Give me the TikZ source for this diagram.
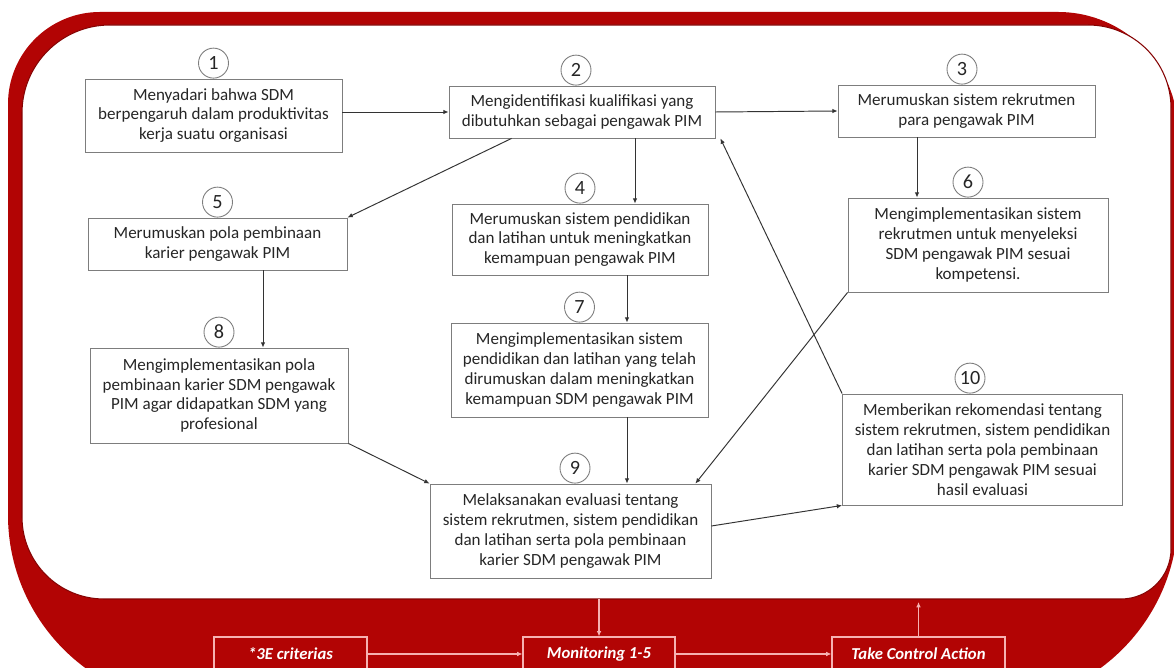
\documentclass[tikz,border=0pt]{standalone}
\usepackage{fontspec}
\setmainfont{Carlito}
\usepackage{xcolor}
\usetikzlibrary{arrows.meta}
\definecolor{framered}{RGB}{178,4,4}
\definecolor{boxgrey}{RGB}{125,125,125}
\definecolor{linkpink}{RGB}{246,178,178}
\begin{document}
\begin{tikzpicture}[x=0.02cm,y=-0.02cm,
	stepbox/.style={draw=boxgrey,line width=0.5pt,fill=white,align=center,inner sep=1pt,text=black!85,font=\fontsize{9.7}{11.3}\selectfont},
	num/.style={circle,draw=boxgrey,line width=0.5pt,fill=white,inner sep=0pt,minimum size=0.6cm,anchor=south,text=black!85,font=\fontsize{11.5}{12}\selectfont},
	ctrl/.style={draw=linkpink,line width=0.6pt,minimum width=#1,minimum height=0.68cm,text=white,font=\fontsize{9.5}{11}\selectfont\bfseries\itshape},
	arr/.style={-{Latex[length=3pt,width=2.6pt]},draw=black!80,line width=0.55pt},
	parr/.style={-{Latex[length=3pt,width=2.6pt]},draw=linkpink,line width=0.7pt}]
			\useasboundingbox (0,0) rectangle (1174,668);
			\clip (0,0) rectangle (1174,668);
			\fill[white] (0,0) rectangle (1174,668);
			\fill[framered] (8,104) .. controls (8,53.2) and (49.2,12) .. (100,12) -- (1058,12) .. controls (1124.3,12) and (1178,65.7) .. (1178,132) -- (1178,515) .. controls (1178,619.9) and (1092.9,705) .. (988,705) -- (198,705) .. controls (93.1,705) and (8,619.9) .. (8,515) -- cycle;
			\fill[white,draw=framered!75!black,line width=0.6pt] (22,113) .. controls (22,64.4) and (61.4,25) .. (110,25) -- (1088,25) .. controls (1133.8,25) and (1171,62.2) .. (1171,108) -- (1171,549) .. controls (1171,576.6) and (1148.6,599) .. (1121,599) -- (104,599) .. controls (58.7,599) and (22,562.3) .. (22,517) -- cycle;
			\node[stepbox,minimum width=5.14cm,minimum height=1.46cm] (b1) at (213.5,115.5) {Menyadari bahwa SDM\\berpengaruh dalam produktivitas\\kerja suatu organisasi};
			\node[stepbox,minimum width=5.32cm,minimum height=1.04cm] (b2) at (582,112) {Mengidentifikasi kualifikasi yang\\dibutuhkan sebagai pengawak PIM};
			\node[stepbox,minimum width=5.14cm,minimum height=1.04cm] (b3) at (966.5,111) {Merumuskan sistem rekrutmen\\para pengawak PIM};
			\node[stepbox,minimum width=5.12cm,minimum height=1.42cm] (b4) at (580,239.5) {Merumuskan sistem pendidikan\\dan latihan untuk meningkatkan\\kemampuan pengawak PIM};
			\node[stepbox,minimum width=5.18cm,minimum height=1.04cm] (b5) at (217.5,244) {Merumuskan pola pembinaan\\karier pengawak PIM};
			\node[stepbox,minimum width=5.20cm,minimum height=1.88cm] (b6) at (978,245) {Mengimplementasikan sistem\\rekrutmen untuk menyeleksi\\SDM pengawak PIM sesuai\\kompetensi.};
			\node[stepbox,minimum width=5.14cm,minimum height=1.88cm] (b7) at (579.5,370) {Mengimplementasikan sistem\\pendidikan dan latihan yang telah\\dirumuskan dalam meningkatkan\\kemampuan SDM pengawak PIM};
			\node[stepbox,minimum width=5.16cm,minimum height=1.90cm] (b8) at (219,395.5) {Mengimplementasikan pola\\pembinaan karier SDM pengawak\\PIM agar didapatkan SDM yang\\profesional};
			\node[stepbox,minimum width=5.62cm,minimum height=1.88cm] (b9) at (570.5,531) {Melaksanakan evaluasi tentang\\sistem rekrutmen, sistem pendidikan\\dan latihan serta pola pembinaan\\karier SDM pengawak PIM};
			\node[stepbox,minimum width=5.60cm,minimum height=2.22cm] (b10) at (982.5,449.5) {Memberikan rekomendasi tentang\\sistem rekrutmen, sistem pendidikan\\dan latihan serta pola pembinaan\\karier SDM pengawak PIM sesuai\\hasil evaluasi};
			\node[num] (n1) at (b1.north) {1};
			\node[num] (n2) at ([xshift=-0.12cm]b2.north) {2};
			\node[num] (n3) at ([xshift=-0.09cm]b3.north) {3};
			\node[num] (n4) at (b4.north) {4};
			\node[num] (n5) at (b5.north) {5};
			\node[num] (n6) at ([xshift=-0.2cm]b6.north) {6};
			\node[num] (n7) at (b7.north) {7};
			\node[num] (n8) at (b8.north) {8};
			\node[num] (n9) at ([xshift=0.09cm]b9.north) {9};
			\node[num] (n10) at ([xshift=-0.25cm]b10.north) {10};
			\draw[arr] (b1.east |- b2.west) -- (b2.west);
			\draw[arr] (b2.east) -- (b3.west);
			\draw[arr] ([xshift=1.26cm]b2.south west) -- (b5.north east);
			\draw[arr] ([xshift=1.06cm]b2.south) -- ([xshift=1.06cm]b2.south |- b4.north);
			\draw[arr] ([xshift=-0.99cm]b3.south) -- ([xshift=-0.99cm]b3.south |- b6.north);
			\draw[arr] ([xshift=0.91cm]b5.south) -- ([xshift=0.91cm]b5.south |- b8.north);
			\draw[arr] ([xshift=0.94cm]b4.south) -- ([xshift=0.94cm]b4.south |- b7.north);
			\draw[arr] ([xshift=0.95cm]b7.south) -- ([xshift=0.95cm]b7.south |- b9.north);
			\draw[arr] (b8.south east) -- (b9.north west);
			\draw[arr] (b6.south west) -- ([xshift=-0.32cm]b9.north east);
			\draw[arr] (b10.north west) -- ([xshift=0.1cm]b2.south east);
			\draw[arr] ([yshift=0.1cm]b9.east) -- (b10.south west);
			\node[ctrl=3.06cm] (c1) at (290.5,654) {*3E criterias};
			\node[ctrl=3.04cm] (c2) at (599,654) {Monitoring 1-5};
			\node[ctrl=3.46cm] (c3) at (918.5,654) {Take Control Action};
			\coordinate (wedge) at (0,599);
			\coordinate (tedge) at (0,602);
			\draw[parr] (c1.east) -- (c2.west);
			\draw[parr] (c2.east) -- (c3.west);
			\draw[parr] (c2.north |- wedge) -- (c2.north);
			\draw[parr] (c3.north) -- (c3.north |- tedge);
		\end{tikzpicture}
\end{document}
